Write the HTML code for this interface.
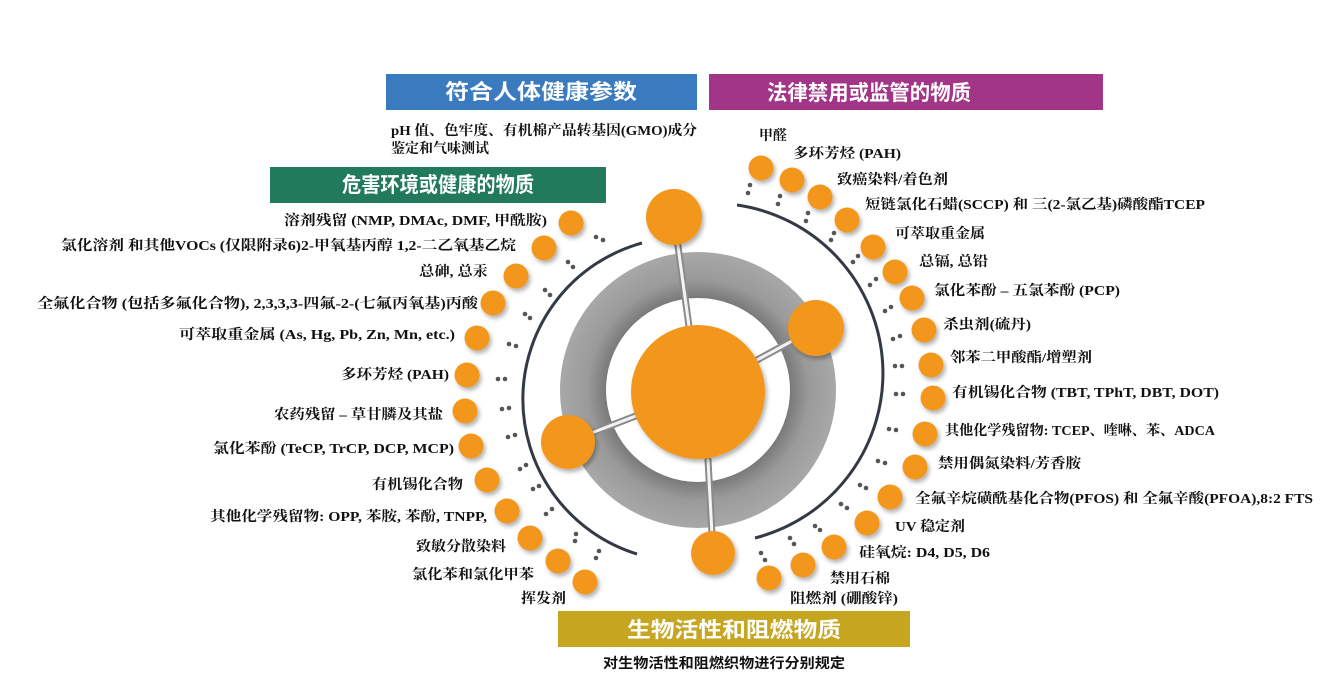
<!DOCTYPE html>
<html><head><meta charset="utf-8">
<style>
html,body{margin:0;padding:0;background:#fff;}
svg{display:block;}
.h{font-family:"Liberation Sans","Noto Sans CJK SC",sans-serif;font-weight:bold;fill:#fff;font-size:21px;}
.l{font-family:"Liberation Serif","Noto Serif CJK SC",serif;font-weight:bold;fill:#111;font-size:14px;}
.s{font-family:"Liberation Serif","Noto Sans CJK SC",sans-serif;font-weight:bold;fill:#111;font-size:14px;}
</style></head><body>
<svg width="1320" height="678" viewBox="0 0 1320 678" xmlns="http://www.w3.org/2000/svg">
<defs>
<filter id="sh" x="-30%" y="-30%" width="170%" height="170%">
<feDropShadow dx="2" dy="3" stdDeviation="2" flood-color="#000" flood-opacity="0.3"/>
</filter>
<radialGradient id="ring" cx="698" cy="390" r="138" gradientUnits="userSpaceOnUse">
<stop offset="0.67" stop-color="#7a7a7a"/>
<stop offset="0.8" stop-color="#9a9a9a"/>
<stop offset="1" stop-color="#a8a8a8"/>
</radialGradient>
</defs>

<rect x="386" y="74" width="311" height="36" fill="#3a7bbf"/>
<text class="h" x="541" y="99" text-anchor="middle" textLength="192" lengthAdjust="spacingAndGlyphs">符合人体健康参数</text>
<rect x="709" y="74" width="394" height="36" fill="#a23587"/>
<text class="h" x="869" y="100" text-anchor="middle" textLength="204" lengthAdjust="spacingAndGlyphs">法律禁用或监管的物质</text>
<rect x="270" y="167" width="336" height="36" fill="#207a5b"/>
<text class="h" x="438" y="192" text-anchor="middle" textLength="192" lengthAdjust="spacingAndGlyphs">危害环境或健康的物质</text>
<rect x="558" y="611" width="352" height="36" fill="#c6a620"/>
<text class="h" x="734" y="637" text-anchor="middle" textLength="214" lengthAdjust="spacingAndGlyphs">生物活性和阻燃物质</text>

<text class="l" x="391" y="135" textLength="306" lengthAdjust="spacingAndGlyphs">pH 值、色牢度、有机棉产品转基因(GMO)成分</text>
<text class="l" x="391" y="153">鉴定和气味测试</text>
<text class="s" x="724" y="668" text-anchor="middle" textLength="242" lengthAdjust="spacingAndGlyphs">对生物活性和阻燃织物进行分别规定</text>

<path d="M642,243 A162,162 0 0 0 637,554" fill="none" stroke="#333a44" stroke-width="3"/>
<path d="M737,205 A170,170 0 0 1 755,538" fill="none" stroke="#333a44" stroke-width="3"/>

<circle cx="698" cy="390" r="115" fill="none" stroke="url(#ring)" stroke-width="46"/>

<g stroke-linecap="round">
<line x1="698" y1="392" x2="674" y2="217" stroke="#8a8a8a" stroke-width="7"/>
<line x1="698" y1="392" x2="674" y2="217" stroke="#f4f4f4" stroke-width="3"/>
<line x1="698" y1="392" x2="816" y2="328" stroke="#8a8a8a" stroke-width="7"/>
<line x1="698" y1="392" x2="816" y2="328" stroke="#f4f4f4" stroke-width="3"/>
<line x1="698" y1="392" x2="568" y2="442" stroke="#8a8a8a" stroke-width="7"/>
<line x1="698" y1="392" x2="568" y2="442" stroke="#f4f4f4" stroke-width="3"/>
<line x1="708" y1="460" x2="713" y2="553" stroke="#8a8a8a" stroke-width="7"/>
<line x1="708" y1="460" x2="713" y2="553" stroke="#f4f4f4" stroke-width="3"/>
</g>

<g fill="#f3961f" filter="url(#sh)">
<circle cx="698" cy="392" r="67"/>
<circle cx="674" cy="217" r="28"/>
<circle cx="816" cy="328" r="28"/>
<circle cx="568" cy="442" r="27"/>
<circle cx="713" cy="553" r="22"/>
</g>

<g fill="#555">
<circle cx="596" cy="237" r="2.3"/><circle cx="603" cy="240" r="2.3"/>
<circle cx="568" cy="262" r="2.3"/><circle cx="573" cy="267" r="2.3"/>
<circle cx="545" cy="290" r="2.3"/><circle cx="550" cy="295" r="2.3"/>
<circle cx="525" cy="314" r="2.3"/><circle cx="530" cy="318" r="2.3"/>
<circle cx="509" cy="344" r="2.3"/><circle cx="516" cy="346" r="2.3"/>
<circle cx="498" cy="379" r="2.3"/><circle cx="505" cy="379" r="2.3"/>
<circle cx="502" cy="409" r="2.3"/><circle cx="509" cy="408" r="2.3"/>
<circle cx="508" cy="437" r="2.3"/><circle cx="515" cy="435" r="2.3"/>
<circle cx="520" cy="469" r="2.3"/><circle cx="526" cy="465" r="2.3"/>
<circle cx="533" cy="489" r="2.3"/><circle cx="539" cy="486" r="2.3"/>
<circle cx="546" cy="514" r="2.3"/><circle cx="552" cy="509" r="2.3"/>
<circle cx="576" cy="534" r="2.3"/><circle cx="575" cy="541" r="2.3"/>
<circle cx="599" cy="551" r="2.3"/><circle cx="596" cy="558" r="2.3"/>
</g>
<g fill="#f3961f" filter="url(#sh)">
<circle cx="571" cy="223" r="12.5"/>
<circle cx="544" cy="248" r="12.5"/>
<circle cx="516" cy="276" r="12.5"/>
<circle cx="493" cy="303" r="12.5"/>
<circle cx="477" cy="338" r="12.5"/>
<circle cx="467" cy="375" r="12.5"/>
<circle cx="465" cy="411" r="12.5"/>
<circle cx="471" cy="446" r="12.5"/>
<circle cx="487" cy="480" r="12.5"/>
<circle cx="507" cy="511" r="12.5"/>
<circle cx="530" cy="538" r="12.5"/>
<circle cx="558" cy="561" r="12.5"/>
<circle cx="585" cy="582" r="12.5"/>
</g>

<g fill="#555">
<circle cx="750" cy="185" r="2.3"/><circle cx="748" cy="193" r="2.3"/>
<circle cx="780" cy="196" r="2.3"/><circle cx="778" cy="204" r="2.3"/>
<circle cx="808" cy="213" r="2.3"/><circle cx="806" cy="221" r="2.3"/>
<circle cx="834" cy="233" r="2.3"/><circle cx="831" cy="240" r="2.3"/>
<circle cx="858" cy="256" r="2.3"/><circle cx="853" cy="262" r="2.3"/>
<circle cx="876" cy="279" r="2.3"/><circle cx="870" cy="285" r="2.3"/>
<circle cx="891" cy="307" r="2.3"/><circle cx="885" cy="311" r="2.3"/>
<circle cx="900" cy="336" r="2.3"/><circle cx="893" cy="339" r="2.3"/>
<circle cx="902" cy="366" r="2.3"/><circle cx="895" cy="366" r="2.3"/>
<circle cx="903" cy="394" r="2.3"/><circle cx="896" cy="394" r="2.3"/>
<circle cx="896" cy="430" r="2.3"/><circle cx="889" cy="429" r="2.3"/>
<circle cx="885" cy="463" r="2.3"/><circle cx="878" cy="461" r="2.3"/>
<circle cx="866" cy="488" r="2.3"/><circle cx="860" cy="485" r="2.3"/>
<circle cx="847" cy="508" r="2.3"/><circle cx="841" cy="504" r="2.3"/>
<circle cx="820" cy="530" r="2.3"/><circle cx="815" cy="526" r="2.3"/>
<circle cx="794" cy="544" r="2.3"/><circle cx="790" cy="538" r="2.3"/>
<circle cx="765" cy="560" r="2.3"/><circle cx="761" cy="553" r="2.3"/>
</g>
<g fill="#f3961f" filter="url(#sh)">
<circle cx="761" cy="168" r="12.5"/>
<circle cx="792" cy="180" r="12.5"/>
<circle cx="820" cy="197" r="12.5"/>
<circle cx="847" cy="220" r="12.5"/>
<circle cx="873" cy="247" r="12.5"/>
<circle cx="895" cy="272" r="12.5"/>
<circle cx="912" cy="298" r="12.5"/>
<circle cx="924" cy="330" r="12.5"/>
<circle cx="931" cy="365" r="12.5"/>
<circle cx="933" cy="398" r="12.5"/>
<circle cx="925" cy="434" r="12.5"/>
<circle cx="915" cy="467" r="12.5"/>
<circle cx="890" cy="497" r="12.5"/>
<circle cx="867" cy="523" r="12.5"/>
<circle cx="834" cy="547" r="12.5"/>
<circle cx="803" cy="565" r="12.5"/>
<circle cx="769" cy="578" r="12.5"/>
</g>

<g class="l">
<text x="284" y="225" textLength="263" lengthAdjust="spacingAndGlyphs">溶剂残留 (NMP, DMAc, DMF, 甲酰胺)</text>
<text x="61" y="250" textLength="455" lengthAdjust="spacingAndGlyphs">氯化溶剂 和其他VOCs (仅限附录6)2-甲氧基丙醇 1,2-二乙氧基乙烷</text>
<text x="419" y="276" textLength="69" lengthAdjust="spacingAndGlyphs">总砷, 总汞</text>
<text x="37" y="308" textLength="441" lengthAdjust="spacingAndGlyphs">全氟化合物 (包括多氟化合物), 2,3,3,3-四氟-2-(七氟丙氧基)丙酸</text>
<text x="179" y="339" textLength="276" lengthAdjust="spacingAndGlyphs">可萃取重金属 (As, Hg, Pb, Zn, Mn, etc.)</text>
<text x="341" y="379" textLength="108" lengthAdjust="spacingAndGlyphs">多环芳烃 (PAH)</text>
<text x="274" y="419" textLength="169" lengthAdjust="spacingAndGlyphs">农药残留 – 草甘膦及其盐</text>
<text x="213" y="453" textLength="241" lengthAdjust="spacingAndGlyphs">氯化苯酚 (TeCP, TrCP, DCP, MCP)</text>
<text x="372" y="489" textLength="91" lengthAdjust="spacingAndGlyphs">有机锡化合物</text>
<text x="210" y="521" textLength="277" lengthAdjust="spacingAndGlyphs">其他化学残留物: OPP, 苯胺, 苯酚, TNPP,</text>
<text x="416" y="551" textLength="90" lengthAdjust="spacingAndGlyphs">致敏分散染料</text>
<text x="412" y="579" textLength="122" lengthAdjust="spacingAndGlyphs">氯化苯和氯化甲苯</text>
<text x="521" y="603" textLength="45" lengthAdjust="spacingAndGlyphs">挥发剂</text>
</g>

<g class="l">
<text x="759" y="140">甲醛</text>
<text x="793" y="158" textLength="108" lengthAdjust="spacingAndGlyphs">多环芳烃 (PAH)</text>
<text x="837" y="184" textLength="111" lengthAdjust="spacingAndGlyphs">致癌染料/着色剂</text>
<text x="865" y="209" textLength="340" lengthAdjust="spacingAndGlyphs">短链氯化石蜡(SCCP) 和 三(2-氯乙基)磷酸酯TCEP</text>
<text x="895" y="238" textLength="90" lengthAdjust="spacingAndGlyphs">可萃取重金属</text>
<text x="919" y="266" textLength="69" lengthAdjust="spacingAndGlyphs">总镉, 总铅</text>
<text x="934" y="295" textLength="186" lengthAdjust="spacingAndGlyphs">氯化苯酚 – 五氯苯酚 (PCP)</text>
<text x="943" y="329" textLength="88" lengthAdjust="spacingAndGlyphs">杀虫剂(硫丹)</text>
<text x="950" y="362" textLength="142" lengthAdjust="spacingAndGlyphs">邻苯二甲酸酯/增塑剂</text>
<text x="952" y="397" textLength="267" lengthAdjust="spacingAndGlyphs">有机锡化合物 (TBT, TPhT, DBT, DOT)</text>
<text x="945" y="435" textLength="270" lengthAdjust="spacingAndGlyphs">其他化学残留物: TCEP、喹啉、苯、ADCA</text>
<text x="938" y="468" textLength="143" lengthAdjust="spacingAndGlyphs">禁用偶氮染料/芳香胺</text>
<text x="915" y="503" textLength="398" lengthAdjust="spacingAndGlyphs">全氟辛烷磺酰基化合物(PFOS) 和 全氟辛酸(PFOA),8:2 FTS</text>
<text x="895" y="531" textLength="70" lengthAdjust="spacingAndGlyphs">UV 稳定剂</text>
<text x="859" y="557" textLength="131" lengthAdjust="spacingAndGlyphs">硅氧烷: D4, D5, D6</text>
<text x="830" y="583" textLength="60" lengthAdjust="spacingAndGlyphs">禁用石棉</text>
<text x="790" y="603" textLength="108" lengthAdjust="spacingAndGlyphs">阻燃剂 (硼酸锌)</text>
</g>
</svg>
</body></html>
